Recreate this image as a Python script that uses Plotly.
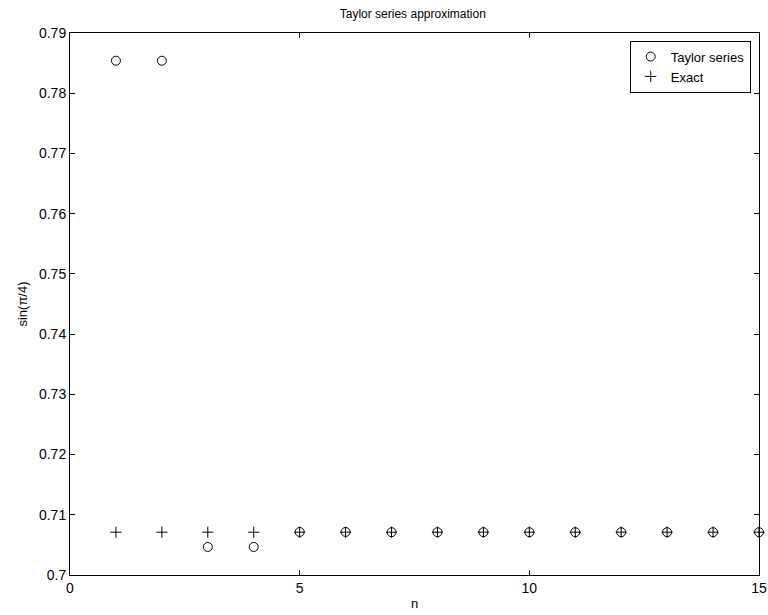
import plotly.graph_objects as go

n = list(range(1, 16))
taylor = [0.785398, 0.785398, 0.704653, 0.704653, 0.707143, 0.707143, 0.707106,
          0.707106, 0.707107, 0.707107, 0.707107, 0.707107, 0.707107, 0.707107, 0.707107]
exact = [0.707107] * 15

font = "Liberation Sans, Arial, sans-serif"

fig = go.Figure()
fig.add_trace(go.Scatter(x=n, y=taylor, mode="markers", name="Taylor series", cliponaxis=False,
                         marker=dict(symbol="circle-open", size=9, color="black",
                                     line=dict(width=1, color="black"))))
fig.add_trace(go.Scatter(x=n, y=exact, mode="markers", name="Exact", cliponaxis=False,
                         marker=dict(symbol="cross-thin-open", size=8, color="black",
                                     line=dict(width=1, color="black"))))

axis_common = dict(showgrid=False, zeroline=False, showline=True, linecolor="black",
                   linewidth=1, mirror="ticks", ticks="inside", ticklen=5, automargin=False,
                   tickcolor="black", tickfont=dict(family=font, size=14, color="black"))

fig.update_layout(
    width=768, height=615,
    margin=dict(l=70, r=9, t=33, b=40),
    paper_bgcolor="white", plot_bgcolor="white",
    title=dict(text="Taylor series approximation", x=0.5375, xanchor="center",
               y=0.977, yanchor="middle", font=dict(family=font, size=12, color="black")),
    xaxis=dict(range=[0, 15], tickvals=[0, 5, 10, 15],
               title=dict(text="n", standoff=4, font=dict(family=font, size=13, color="#000000")),
               **axis_common),
    yaxis=dict(range=[0.7, 0.79], tickvals=[0.7 + 0.01 * i for i in range(10)],
               ticktext=["0.7", "0.71", "0.72", "0.73", "0.74", "0.75", "0.76", "0.77", "0.78", "0.79"],
               title=dict(text="sin(π/4)", standoff=8, font=dict(family=font, size=13, color="#000000")),
               **axis_common),
    legend=dict(x=0.988, y=0.986, xanchor="right", yanchor="top", bordercolor="black",
                borderwidth=1, bgcolor="white", font=dict(family=font, size=13, color="black"),
                tracegroupgap=0, itemsizing="trace", itemwidth=30),
    showlegend=True,
)

fig.write_html("out.html")
